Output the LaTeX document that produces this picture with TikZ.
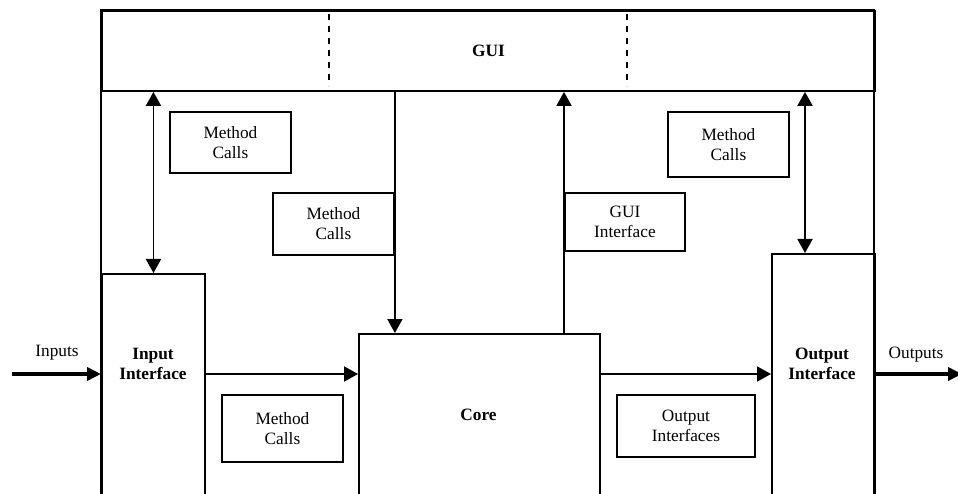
\documentclass[tikz,border=0pt]{standalone}
\usepackage{fontspec}
\setmainfont{Liberation Serif}
\usetikzlibrary{arrows.meta}
\begin{document}
\begin{tikzpicture}[x=1pt,y=-1pt,line width=1.9pt,
  txt/.style={font=\fontsize{17.3}{20}\selectfont, align=center, inner sep=0pt},
  boldtxt/.style={txt, font=\fontsize{17.3}{20}\selectfont\bfseries},
  box/.style={draw, line width=1.9pt, inner sep=0pt, anchor=north west},
  arr/.style={-{Triangle[length=14pt,width=15pt]}, line width=1.9pt},
  dblarr/.style={{Triangle[length=14pt,width=15pt]}-{Triangle[length=14pt,width=15pt]}, line width=1.9pt},
  fatarr/.style={-{Triangle[length=14pt,width=13pt]}, line width=3.8pt},
  divider/.style={dashed, dash pattern=on 6pt off 6pt, line width=1.9pt}]
\useasboundingbox (0,0) rectangle (958,494);
\clip (0,0) rectangle (958,494);

% outer frame, open at the bottom
\draw (101,510) -- (101,10) -- (874,10) -- (874,510);

% GUI bar with its two dashed dividers
\node[box, minimum width=773pt, minimum height=80pt] (gui) at (101,10) {};
\node[boldtxt] at (gui.center) {GUI};
\draw[divider] (329,14) -- (329,86);
\draw[divider] (627,14) -- (627,86);

% main blocks
\node[box, minimum width=103pt, minimum height=240pt] (inp) at (101,273) {};
\node[box, minimum width=241pt, minimum height=180pt] (core) at (358,333) {};
\node[box, minimum width=103pt, minimum height=260pt] (out) at (771,253) {};
\node[boldtxt] (inplbl) at (153,364) {Input\\Interface};
\node[boldtxt] (corelbl) at (478.5,415) {Core};
\node[boldtxt] (outlbl) at (822,364) {Output\\Interface};

% annotation boxes
\node[box, txt, minimum width=121pt, minimum height=61pt] (mc1) at (169,111) {Method\\Calls};
\node[box, txt, minimum width=121pt, minimum height=62pt] (mc2) at (272,192) {Method\\Calls};
\node[box, txt, minimum width=121pt, minimum height=67pt] (mc3) at (221,394) {Method\\Calls};
\node[box, txt, minimum width=120pt, minimum height=58pt] (gi) at (564,192) {GUI\\Interface};
\node[box, txt, minimum width=121pt, minimum height=65pt] (mc4) at (667,111) {Method\\Calls};
\node[box, txt, minimum width=138pt, minimum height=62pt] (oi) at (616,394) {Output\\Interfaces};

% external inputs and outputs
\coordinate (inpt) at (12,374);
\coordinate (outpt) at (962,374);
\node[txt] (inlabel) at (57,353) {Inputs};
\node[txt] (outlabel) at (916,355) {Outputs};
\draw[fatarr] (inpt) -- (inp.west |- inpt);
\draw[fatarr] (out.east |- outpt) -- (outpt);

% data flow between blocks
\draw[arr] (inp.east |- inpt) -- (core.west |- inpt);
\draw[arr] (core.east |- inpt) -- (out.west |- inpt);

% links to the GUI
\coordinate (rx) at (805,0);
\draw[dblarr] (gui.south -| inp.north) -- (inp.north);
\draw[arr] (gui.south -| mc2.east) -- (core.north -| mc2.east);
\draw[arr] (core.north -| gi.west) -- (gui.south -| gi.west);
\draw[dblarr] (gui.south -| rx) -- (out.north -| rx);
\end{tikzpicture}
\end{document}
